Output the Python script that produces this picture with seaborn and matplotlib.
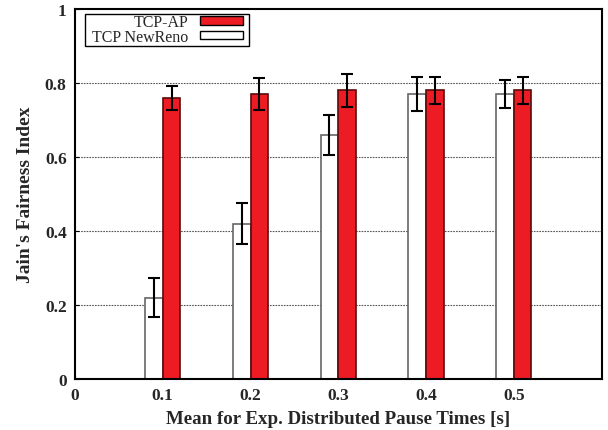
import numpy as np
import pandas as pd
import matplotlib
matplotlib.use("Agg")
import matplotlib.pyplot as plt
import seaborn as sns
from matplotlib.patches import Patch, Rectangle

# Mean pause times (s) and fairness results
pause_times = ["0.1", "0.2", "0.3", "0.4", "0.5"]
tcp_ap = [0.76, 0.77, 0.78, 0.78, 0.78]
tcp_ap_err = [0.033, 0.043, 0.045, 0.036, 0.036]
newreno = [0.22, 0.42, 0.66, 0.77, 0.77]
newreno_err = [0.052, 0.055, 0.054, 0.045, 0.037]
x_tick_labels = ["0", "0.1", "0.2", "0.3", "0.4", "0.5"]
y_tick_labels = ["0", "0.2", "0.4", "0.6", "0.8", "1"]

protocols = ["TCP NewReno", "TCP-AP"]
colors = {"TCP NewReno": "white", "TCP-AP": "#ed1c24"}
edges = {"TCP NewReno": "#666666", "TCP-AP": "#5a0a0a"}

df = pd.DataFrame({
    "pause": pause_times * 2,
    "protocol": ["TCP NewReno"] * len(pause_times) + ["TCP-AP"] * len(pause_times),
    "fairness": newreno + tcp_ap,
    "err": newreno_err + tcp_ap_err,
})

sns.set_theme(style="white")
plt.rcParams["font.family"] = ["Liberation Serif", "DejaVu Serif"]

fig = plt.figure(figsize=(6.08, 4.31), dpi=100)
ax = fig.add_axes([75 / 608, 1 - 380 / 431, (601.5 - 75) / 608, (380 - 10) / 431])

sns.barplot(data=df, x="pause", y="fairness", hue="protocol",
            hue_order=protocols, order=pause_times, palette=colors,
            saturation=1, width=0.4, errorbar=None, legend=False, ax=ax, zorder=2)

# colour edges per protocol and add error bars at the bar centres
for container, proto in zip(ax.containers, protocols):
    sub = df[df.protocol == proto].set_index("pause").loc[pause_times]
    xs = []
    for bar in container:
        bar.set_edgecolor(edges[proto])
        bar.set_linewidth(1.2)
        xs.append(bar.get_x() + bar.get_width() / 2)
    ax.errorbar(xs, sub["fairness"], yerr=sub["err"], fmt="none",
                ecolor="black", elinewidth=1.5, capsize=4, capthick=1.5, zorder=3)

ax.set_xlim(-1, 5)
ax.set_ylim(0, 1)
ax.set_xticks(np.arange(-1, 5))
ax.set_xticklabels(x_tick_labels, fontweight="bold", fontsize=12.5)
ax.set_yticks(np.linspace(0, 1, 6))
ax.set_yticklabels(y_tick_labels, fontweight="bold", fontsize=12.5)
ax.tick_params(axis="both", direction="in", length=3, width=0.8, color="black",
               pad=6, left=True, bottom=True)

for y in [0.2, 0.4, 0.6, 0.8]:
    ax.axhline(y, color="#555555", linestyle=(0, (1.5, 1)), linewidth=0.8, zorder=0)

for spine in ax.spines.values():
    spine.set_visible(True)
    spine.set_color("black")
    spine.set_linewidth(1.5)

ax.set_xlabel("Mean for Exp. Distributed Pause Times [s]", fontsize=13.6,
              fontweight="bold", labelpad=5)
ax.set_ylabel("Jain's Fairness Index", fontsize=14, fontweight="bold", labelpad=8)

# key: labels on the left, swatches on the right, inside a plain box
handles = [Patch(facecolor=colors["TCP-AP"], edgecolor="black", linewidth=1),
           Patch(facecolor="white", edgecolor="black", linewidth=1)]
leg = ax.legend(handles, ["TCP-AP", "TCP NewReno"], loc="upper left",
                bbox_to_anchor=(0.033, 0.986), markerfirst=False, fontsize=11.5,
                frameon=False, handlelength=2.7, handleheight=0.45,
                handletextpad=0.7, labelspacing=-0.1, borderpad=0,
                borderaxespad=0)
leg.set_zorder(5)
for t in leg.get_texts():
    t.set_ha("right")
ax.add_patch(Rectangle((0.019, 0.9), 0.3115, 0.0865, transform=ax.transAxes,
                       facecolor="white", edgecolor="black", linewidth=1.0,
                       zorder=4))

fig.savefig("out.png", dpi=100)
